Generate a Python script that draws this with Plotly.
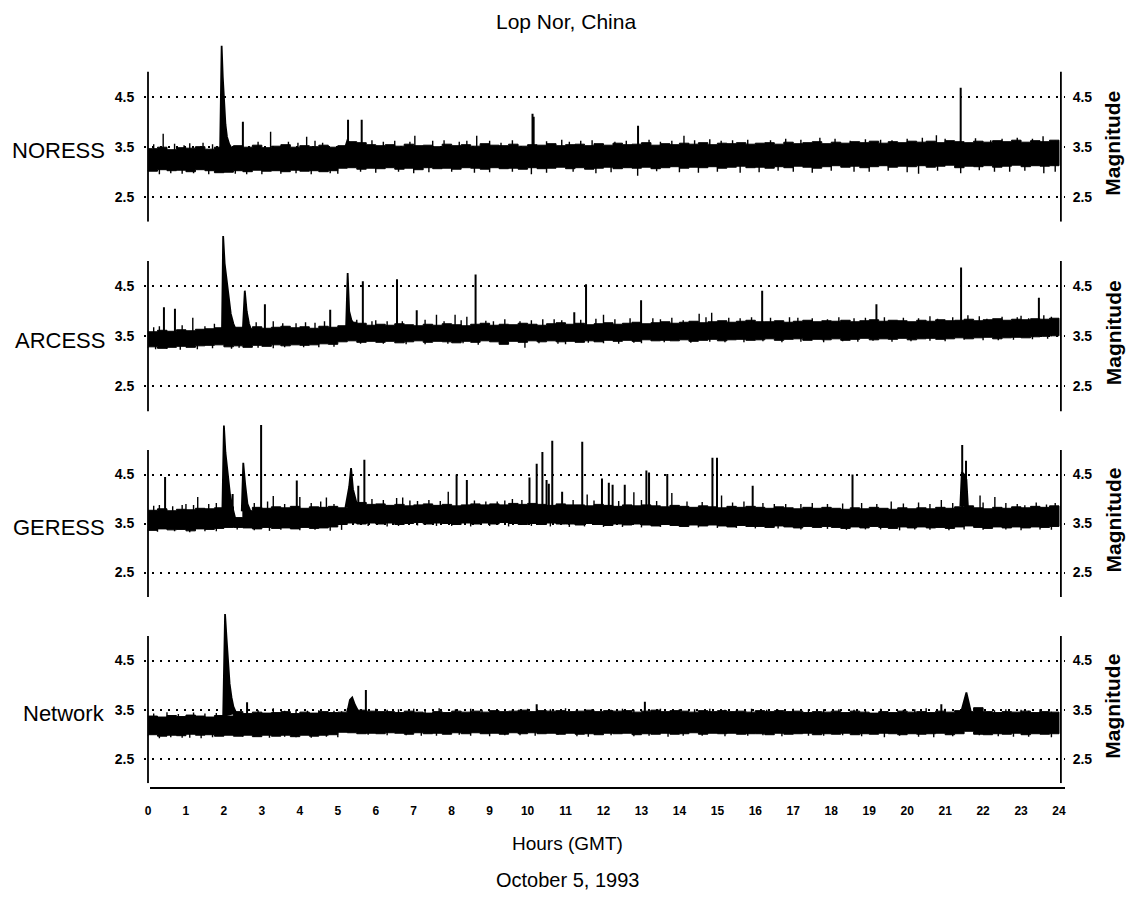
import plotly.graph_objects as go

# ---------------- data ----------------
HOURS = [0.0, 0.25, 0.5, 0.75, 1.0, 1.25, 1.5, 1.75, 2.0, 2.25, 2.5, 2.75,
         3.0, 3.25, 3.5, 3.75, 4.0, 4.25, 4.5, 4.75, 5.0, 5.25, 5.5, 5.75,
         6.0, 6.25, 6.5, 6.75, 7.0, 7.25, 7.5, 7.75, 8.0, 8.25, 8.5, 8.75,
         9.0, 9.25, 9.5, 9.75, 10.0, 10.25, 10.5, 10.75, 11.0, 11.25, 11.5, 11.75,
         12.0, 12.25, 12.5, 12.75, 13.0, 13.25, 13.5, 13.75, 14.0, 14.25, 14.5, 14.75,
         15.0, 15.25, 15.5, 15.75, 16.0, 16.25, 16.5, 16.75, 17.0, 17.25, 17.5, 17.75,
         18.0, 18.25, 18.5, 18.75, 19.0, 19.25, 19.5, 19.75, 20.0, 20.25, 20.5, 20.75,
         21.0, 21.25, 21.5, 21.75, 22.0, 22.25, 22.5, 22.75, 23.0, 23.25, 23.5, 23.75, 24.0]

X_TICKS = [0, 1, 2, 3, 4, 5, 6, 7, 8, 9, 10, 11, 12, 13, 14, 15, 16, 17, 18, 19, 20, 21, 22, 23, 24]
Y_TICKS = [2.5, 3.5, 4.5]
STATIONS = ["NORESS", "ARCESS", "GERESS", "Network"]

# noise band envelopes (upper / lower magnitude every quarter hour)
NORESS_UPPER = [3.46, 3.49, 3.44, 3.48, 3.47, 3.50, 3.45, 3.49,
                3.48,
                3.52, 3.49, 3.53, 3.48, 3.51, 3.54, 3.49, 3.52, 3.50, 3.53, 3.49, 3.52,
                3.60, 3.58, 3.54, 3.52,
                3.54, 3.51, 3.55, 3.52, 3.53, 3.50, 3.55, 3.52, 3.54, 3.51,
                3.56, 3.53, 3.52, 3.55, 3.51, 3.54, 3.53, 3.56, 3.52, 3.54,
                3.55, 3.52, 3.56, 3.53, 3.57, 3.54, 3.55, 3.58, 3.53, 3.56,
                3.54, 3.57, 3.55, 3.58, 3.54, 3.57, 3.56, 3.58, 3.55, 3.57,
                3.58, 3.55, 3.59, 3.56, 3.58, 3.60, 3.56, 3.59, 3.57, 3.60, 3.58, 3.61,
                3.57, 3.60, 3.58, 3.61, 3.59, 3.61, 3.58, 3.62, 3.60, 3.58, 3.61, 3.59,
                3.62, 3.60, 3.63, 3.59, 3.62, 3.60, 3.63, 3.61]
NORESS_LOWER = [3.03, 3.01, 3.04, 3.02, 3.03, 3.00, 3.04, 3.02,
                2.98,
                2.99, 3.02, 3.00, 3.03, 3.01, 3.02, 3.00, 3.03, 3.01, 3.02, 3.00, 3.02,
                3.07, 3.08, 3.05, 3.07,
                3.06, 3.08, 3.05, 3.07, 3.04, 3.08, 3.06, 3.07, 3.05, 3.08,
                3.07, 3.05, 3.08, 3.06, 3.07, 3.05, 3.08, 3.06, 3.07, 3.09,
                3.06, 3.08, 3.05, 3.07, 3.09, 3.06, 3.08, 3.07, 3.09, 3.06,
                3.08, 3.10, 3.07, 3.09, 3.08, 3.10, 3.07, 3.09, 3.11, 3.08,
                3.09, 3.07, 3.10, 3.08, 3.11, 3.09, 3.07, 3.10, 3.12, 3.09, 3.11, 3.08,
                3.10, 3.12, 3.09, 3.11, 3.10, 3.12, 3.09, 3.11, 3.13, 3.08, 3.11, 3.10,
                3.12, 3.09, 3.11, 3.13, 3.10, 3.12, 3.11, 3.12]

ARCESS_UPPER = [3.59, 3.62, 3.60, 3.63, 3.61, 3.64, 3.65, 3.67,
                3.68,
                3.68, 3.65, 3.69, 3.66, 3.68, 3.70, 3.67, 3.69, 3.66, 3.70, 3.68, 3.71,
                3.78, 3.76, 3.72, 3.74,
                3.72, 3.75, 3.73, 3.71, 3.74, 3.72, 3.75, 3.73, 3.71, 3.74,
                3.76, 3.72, 3.74, 3.73, 3.76, 3.74, 3.72, 3.75, 3.77, 3.74,
                3.76, 3.73, 3.75, 3.77, 3.74, 3.76, 3.78, 3.75, 3.77, 3.79,
                3.76, 3.78, 3.80, 3.77, 3.79, 3.81, 3.78, 3.80, 3.82, 3.79,
                3.79, 3.81, 3.78, 3.80, 3.82, 3.79, 3.81, 3.80, 3.82, 3.79, 3.81, 3.83,
                3.80, 3.82, 3.81, 3.79, 3.82, 3.80, 3.83, 3.81, 3.82, 3.84, 3.81, 3.83,
                3.85, 3.82, 3.84, 3.83, 3.85, 3.84, 3.86, 3.84]
ARCESS_LOWER = [3.27, 3.29, 3.26, 3.28, 3.30, 3.28, 3.31, 3.32,
                3.33,
                3.29, 3.31, 3.28, 3.32, 3.30, 3.33, 3.31, 3.33, 3.32, 3.33, 3.35, 3.34,
                3.39, 3.41, 3.38, 3.40,
                3.38, 3.40, 3.37, 3.39, 3.41, 3.38, 3.40, 3.39, 3.37, 3.40,
                3.38, 3.41, 3.39, 3.34, 3.40, 3.38, 3.41, 3.39, 3.41, 3.39,
                3.40, 3.38, 3.41, 3.39, 3.42, 3.40, 3.42, 3.40, 3.43, 3.41,
                3.42, 3.41, 3.43, 3.40, 3.42, 3.44, 3.41, 3.43, 3.44, 3.42,
                3.43, 3.45, 3.42, 3.44, 3.45, 3.42, 3.44, 3.43, 3.45, 3.42, 3.44, 3.46,
                3.43, 3.45, 3.44, 3.46, 3.43, 3.45, 3.46, 3.44, 3.45, 3.47, 3.45, 3.47,
                3.48, 3.45, 3.47, 3.48, 3.47, 3.49, 3.50, 3.51]

GERESS_UPPER = [3.77, 3.80, 3.76, 3.79, 3.78, 3.81, 3.80, 3.82,
                3.84,
                3.62, 3.76,
                3.83, 3.81, 3.84, 3.82, 3.85, 3.81, 3.84, 3.83, 3.85, 3.82,
                3.92, 3.93, 3.89, 3.90,
                3.87, 3.89, 3.86, 3.88, 3.90, 3.87, 3.89, 3.86, 3.88, 3.90,
                3.88, 3.90, 3.88, 3.91, 3.89, 3.91, 3.89, 3.87, 3.90, 3.88,
                3.88, 3.86, 3.89, 3.87, 3.85, 3.88, 3.86, 3.88, 3.86, 3.84,
                3.87, 3.85, 3.83, 3.86, 3.84, 3.82, 3.85, 3.83, 3.85, 3.83,
                3.81, 3.84, 3.82, 3.80, 3.83, 3.81, 3.83, 3.81, 3.79, 3.82, 3.80, 3.83,
                3.81, 3.79, 3.82, 3.80, 3.82, 3.80, 3.83, 3.81, 3.84, 3.86, 3.82, 3.80,
                3.83, 3.81, 3.84, 3.82, 3.85, 3.83, 3.86, 3.84]
GERESS_LOWER = [3.38, 3.36, 3.39, 3.37, 3.38, 3.35, 3.39, 3.38,
                3.40,
                3.42, 3.42,
                3.41, 3.39, 3.42, 3.40, 3.41, 3.39, 3.42, 3.40, 3.41, 3.43,
                3.48, 3.51, 3.49, 3.51,
                3.49, 3.51, 3.48, 3.50, 3.52, 3.49, 3.51, 3.50, 3.48, 3.51,
                3.49, 3.51, 3.49, 3.52, 3.50, 3.48, 3.50, 3.48, 3.51, 3.49,
                3.49, 3.47, 3.50, 3.48, 3.46, 3.49, 3.47, 3.49, 3.47, 3.45,
                3.48, 3.46, 3.44, 3.47, 3.45, 3.47, 3.45, 3.43, 3.46, 3.44,
                3.44, 3.42, 3.45, 3.43, 3.41, 3.44, 3.42, 3.44, 3.42, 3.40, 3.43, 3.41,
                3.44, 3.42, 3.40, 3.43, 3.41, 3.43, 3.41, 3.42, 3.40, 3.43, 3.45, 3.42,
                3.40, 3.43, 3.41, 3.43, 3.41, 3.43, 3.42, 3.44]

NETWORK_UPPER = [3.37, 3.35, 3.38, 3.36, 3.39, 3.37, 3.35, 3.38,
                 3.37,
                 3.46, 3.42, 3.45, 3.43, 3.44, 3.46, 3.42, 3.45, 3.43, 3.46, 3.44, 3.45,
                 3.52, 3.49, 3.47, 3.46,
                 3.46, 3.44, 3.47, 3.45, 3.43, 3.46, 3.44, 3.47, 3.45, 3.47,
                 3.45, 3.48, 3.46, 3.47, 3.49, 3.46, 3.48, 3.47, 3.48, 3.46,
                 3.47, 3.49, 3.46, 3.48, 3.47, 3.48, 3.45, 3.47, 3.49, 3.46,
                 3.48, 3.47, 3.45, 3.48, 3.46, 3.48, 3.46, 3.47, 3.45, 3.48,
                 3.46, 3.48, 3.46, 3.47, 3.44, 3.46, 3.45, 3.47, 3.44, 3.47, 3.45, 3.43,
                 3.46, 3.44, 3.47, 3.45, 3.46, 3.44, 3.47, 3.45, 3.48, 3.46, 3.54, 3.46,
                 3.44, 3.46, 3.45, 3.47, 3.44, 3.46, 3.45, 3.43]
NETWORK_LOWER = [2.97, 2.99, 2.96, 2.98, 2.97, 3.00, 2.98, 2.99,
                 2.96,
                 2.98, 2.96, 2.98, 2.95, 2.98, 2.96, 2.98, 2.95, 2.98, 2.96, 2.98, 2.99,
                 3.04, 3.03, 3.01, 3.02,
                 3.01, 3.03, 3.02, 3.00, 3.03, 3.01, 3.02, 3.00, 3.03, 3.01,
                 3.03, 3.01, 3.02, 3.00, 3.03, 3.01, 3.03, 3.01, 3.02, 3.00,
                 3.02, 3.00, 3.01, 2.99, 3.02, 3.01, 3.02, 2.99, 3.01, 3.00,
                 3.02, 3.00, 3.01, 3.03, 3.00, 3.02, 3.01, 3.02, 3.00, 3.01,
                 3.01, 2.99, 3.02, 3.00, 3.01, 3.02, 2.99, 3.01, 3.00, 3.02, 2.99, 3.01,
                 3.00, 3.02, 3.01, 2.99, 3.01, 3.00, 3.01, 3.02, 2.99, 3.01, 3.06, 3.00,
                 2.99, 3.01, 3.00, 3.02, 2.99, 3.01, 3.00, 3.01]

# detected events: (hour, peak magnitude)
NORESS_SPIKES = [(2.5, 4.0), (5.27, 4.04), (5.63, 4.04), (10.13, 4.16), (10.16, 4.1),
                 (12.91, 3.92), (21.41, 4.68)]
ARCESS_SPIKES = [(0.42, 4.08), (0.71, 4.05), (3.08, 4.14), (4.8, 4.03), (5.66, 4.6),
                 (6.56, 4.64), (7.08, 4.02), (8.63, 4.73), (11.23, 3.98), (11.54, 4.54),
                 (12.99, 4.22), (16.18, 4.41), (19.19, 4.14), (21.42, 4.87), (23.47, 4.27)]
GERESS_SPIKES = [(0.45, 4.45), (2.23, 4.1), (2.98, 5.51), (3.92, 4.38), (5.54, 4.27),
                 (5.7, 4.8), (8.13, 4.5), (8.4, 4.39), (10.05, 4.44), (10.24, 4.72),
                 (10.39, 4.96), (10.5, 4.39), (10.56, 4.31), (10.65, 5.19), (10.91, 4.15),
                 (11.44, 5.17), (11.96, 4.42), (12.14, 4.33), (12.24, 4.29), (12.56, 4.29),
                 (13.13, 4.58), (13.2, 4.54), (13.68, 4.51), (14.87, 4.84), (14.99, 4.84),
                 (15.93, 4.27), (18.56, 4.5), (21.45, 5.1), (21.55, 4.78)]
NETWORK_SPIKES = [(2.61, 3.65), (5.74, 3.9), (10.24, 3.61), (13.09, 3.66), (20.9, 3.61)]

# small noise excursions above / below the band: (hour, magnitude)
NORESS_JAGS = [(0.4, 3.76), (1.1, 3.57), (1.7, 3.55), (3.23, 3.8), (4.18, 3.7), (4.6, 3.58),
               (6.2, 3.6), (7.03, 3.72), (7.5, 3.62), (8.2, 3.6), (8.66, 3.72), (9.3, 3.58),
               (11.4, 3.62), (12.3, 3.6), (13.5, 3.6), (14.12, 3.72), (15.1, 3.62),
               (16.4, 3.63), (17.7, 3.68), (18.5, 3.62), (19.6, 3.63), (20.77, 3.73),
               (22.2, 3.63), (23.58, 3.71), (23.9, 3.62),
               (0.15, 3.55), (0.7, 3.56), (0.95, 3.53), (1.45, 3.58), (2.9, 3.6), (3.7, 3.6),
               (3.95, 3.58), (4.4, 3.62), (5.9, 3.63), (6.5, 3.62), (6.9, 3.6), (7.8, 3.63),
               (8.4, 3.62), (9.0, 3.62), (9.6, 3.63), (10.5, 3.61), (10.9, 3.64), (11.1, 3.6),
               (11.7, 3.63), (12.6, 3.62), (13.2, 3.64), (13.8, 3.62), (14.4, 3.63),
               (14.8, 3.65), (15.4, 3.63), (15.8, 3.64), (16.8, 3.66), (17.2, 3.64),
               (18.1, 3.66), (18.9, 3.65), (19.3, 3.64), (20.0, 3.66), (20.4, 3.68),
               (21.0, 3.66), (21.8, 3.67), (22.5, 3.66), (22.9, 3.68), (23.3, 3.66),
               (0.3, 2.95), (1.2, 2.97), (2.6, 2.95), (3.5, 2.96), (4.8, 2.97), (6.0, 2.98),
               (7.4, 2.99), (9.0, 2.99), (10.1, 2.95), (11.8, 2.97), (12.9, 2.92),
               (14.5, 2.98), (16.1, 2.99), (17.5, 2.98), (19.0, 3.0), (20.3, 2.96),
               (21.41, 2.97), (22.7, 3.0), (23.6, 2.97),
               (0.6, 2.97), (0.9, 2.96), (1.6, 2.95), (2.3, 2.96), (3.0, 2.95), (3.9, 2.97),
               (4.3, 2.95), (5.0, 2.96), (5.6, 3.0), (6.6, 3.0), (7.0, 2.97), (8.0, 3.0),
               (8.6, 2.98), (9.6, 3.0), (10.5, 2.98), (11.2, 3.0), (12.2, 2.99), (13.4, 3.01),
               (14.0, 2.99), (15.0, 3.0), (15.6, 2.98), (16.6, 3.02), (17.0, 3.0),
               (18.0, 3.02), (18.6, 3.0), (19.5, 3.02), (20.0, 2.99), (20.8, 3.02),
               (21.9, 3.03), (22.3, 3.0), (23.1, 3.02), (23.9, 3.0)]
ARCESS_JAGS = [(1.18, 3.87), (3.3, 3.8), (3.9, 3.76), (4.4, 3.77), (6.0, 3.82), (7.6, 3.93),
               (8.09, 3.93), (8.4, 3.89), (9.1, 3.8), (9.8, 3.8), (10.4, 3.84), (10.9, 3.82),
               (12.0, 3.93), (13.5, 3.84), (14.1, 3.82), (14.52, 3.95), (14.85, 3.97),
               (15.6, 3.86), (17.12, 3.87), (17.9, 3.84), (18.6, 3.86), (20.3, 3.86),
               (20.8, 3.85), (21.2, 3.88), (22.1, 3.85), (22.9, 3.88), (23.2, 3.86),
               (23.8, 3.89),
               (0.15, 3.68), (0.3, 3.7), (0.9, 3.72), (1.5, 3.7), (1.75, 3.75), (2.85, 3.78),
               (3.55, 3.76), (4.15, 3.78), (4.65, 3.8), (5.5, 3.83), (5.9, 3.8), (6.3, 3.8),
               (6.7, 3.8), (7.3, 3.83), (7.8, 3.8), (8.25, 3.82), (8.9, 3.81), (9.4, 3.84),
               (10.1, 3.82), (10.7, 3.84), (11.4, 3.83), (11.8, 3.85), (12.3, 3.84),
               (12.7, 3.86), (13.3, 3.86), (13.8, 3.87), (14.7, 3.88), (15.3, 3.87),
               (15.9, 3.88), (16.4, 3.87), (16.9, 3.88), (17.5, 3.86), (18.2, 3.88),
               (18.9, 3.87), (19.4, 3.88), (19.9, 3.87), (20.6, 3.9), (21.6, 3.92),
               (21.9, 3.9), (22.5, 3.89), (23.0, 3.91), (23.6, 3.92),
               (0.5, 3.25), (1.3, 3.24), (2.4, 3.27), (3.6, 3.28), (4.5, 3.28), (6.8, 3.34),
               (7.9, 3.35), (8.7, 3.33), (9.93, 3.27), (11.0, 3.34), (12.4, 3.35),
               (13.0, 3.36), (14.3, 3.37), (15.2, 3.38), (16.7, 3.38), (17.8, 3.38),
               (18.7, 3.39), (19.6, 3.39), (21.0, 3.4), (22.4, 3.42), (23.3, 3.44),
               (0.2, 3.24), (0.85, 3.23), (1.7, 3.26), (2.2, 3.25), (2.9, 3.27), (3.3, 3.26),
               (4.1, 3.28), (4.9, 3.29), (5.6, 3.35), (6.2, 3.35), (7.3, 3.34), (8.3, 3.36),
               (9.3, 3.35), (10.3, 3.36), (10.8, 3.35), (11.6, 3.37), (12.0, 3.36),
               (12.8, 3.37), (13.6, 3.38), (14.8, 3.39), (15.7, 3.38), (16.2, 3.4),
               (17.2, 3.39), (18.3, 3.4), (19.1, 3.41), (20.1, 3.4), (20.6, 3.41),
               (21.5, 3.43), (22.0, 3.42), (22.8, 3.43), (23.7, 3.45)]
GERESS_JAGS = [(0.9, 3.88), (1.0, 3.9), (1.31, 4.04), (3.3, 4.06), (4.0, 4.04), (4.7, 4.03),
               (6.55, 4.02), (6.71, 4.03), (7.1, 3.96), (7.91, 4.15), (9.2, 3.95), (9.6, 4.0),
               (11.57, 4.09), (12.8, 4.14), (13.8, 4.12), (15.11, 4.07), (16.5, 3.9),
               (17.2, 3.9), (19.58, 3.95), (20.9, 3.98), (21.92, 4.07), (22.31, 4.04),
               (23.1, 3.87), (23.67, 3.89),
               (0.15, 3.86), (0.3, 3.88), (0.65, 3.85), (1.2, 3.88), (1.6, 3.9), (1.8, 3.92),
               (2.8, 3.92), (3.15, 3.95), (3.6, 3.9), (4.3, 3.92), (4.55, 3.95), (4.9, 3.9),
               (5.9, 4.0), (6.2, 3.98), (6.9, 3.97), (7.4, 3.98), (7.7, 3.96), (8.6, 3.97),
               (8.9, 3.95), (9.4, 3.97), (9.85, 3.98), (11.2, 3.98), (11.75, 3.97),
               (12.4, 3.96), (13.0, 3.98), (13.4, 3.96), (14.2, 3.95), (14.6, 3.94),
               (15.4, 3.93), (15.7, 3.95), (16.2, 3.92), (16.8, 3.9), (17.5, 3.92),
               (17.9, 3.9), (18.3, 3.91), (18.8, 3.92), (19.2, 3.9), (19.9, 3.91),
               (20.3, 3.93), (20.6, 3.9), (21.2, 3.92), (22.0, 3.93), (22.6, 3.92),
               (22.9, 3.9), (23.4, 3.93), (23.9, 3.92),
               (0.7, 3.34), (1.5, 3.34), (3.5, 3.37), (4.4, 3.37), (6.3, 3.44), (7.6, 3.45),
               (9.5, 3.44), (11.1, 3.43), (12.5, 3.43), (14.0, 3.44), (15.5, 3.41),
               (16.6, 3.4), (17.9, 3.39), (19.3, 3.38), (20.6, 3.37), (21.5, 3.38),
               (22.6, 3.38), (23.5, 3.38),
               (0.25, 3.33), (1.1, 3.32), (1.8, 3.34), (2.35, 3.38), (2.8, 3.36), (3.2, 3.35),
               (4.0, 3.36), (4.8, 3.35), (5.1, 3.37), (5.8, 3.45), (6.6, 3.45), (7.1, 3.46),
               (8.0, 3.45), (8.5, 3.44), (9.0, 3.45), (10.1, 3.45), (10.6, 3.44),
               (11.5, 3.44), (12.0, 3.43), (13.0, 3.42), (13.5, 3.43), (14.5, 3.42),
               (15.0, 3.41), (16.0, 3.4), (17.2, 3.38), (18.4, 3.37), (18.9, 3.38),
               (19.8, 3.36), (20.2, 3.38), (21.1, 3.36), (22.0, 3.37), (23.0, 3.36),
               (23.8, 3.37)]
NETWORK_JAGS = [(0.5, 3.45), (1.5, 3.42), (3.3, 3.53), (4.2, 3.48), (4.9, 3.48), (6.6, 3.51),
                (7.67, 3.53), (8.8, 3.5), (9.6, 3.5), (11.3, 3.51), (12.2, 3.5), (14.4, 3.51),
                (15.5, 3.49), (16.6, 3.5), (17.8, 3.51), (18.9, 3.49), (19.9, 3.5),
                (20.5, 3.53), (22.3, 3.49), (23.2, 3.48), (23.8, 3.46),
                (0.15, 3.42), (0.8, 3.41), (1.2, 3.44), (1.8, 3.43), (2.9, 3.49), (3.6, 3.48),
                (3.9, 3.5), (4.5, 3.49), (5.1, 3.47), (6.0, 3.52), (6.3, 3.5), (7.0, 3.52),
                (7.3, 3.5), (8.1, 3.51), (8.5, 3.52), (9.2, 3.51), (10.0, 3.52), (10.6, 3.51),
                (11.0, 3.53), (11.7, 3.51), (12.5, 3.52), (12.8, 3.5), (13.5, 3.52),
                (14.0, 3.51), (14.8, 3.52), (15.2, 3.5), (15.9, 3.52), (16.3, 3.5),
                (17.0, 3.52), (17.4, 3.5), (18.2, 3.51), (18.6, 3.5), (19.3, 3.52),
                (20.2, 3.51), (21.0, 3.52), (21.9, 3.5), (22.6, 3.51), (23.0, 3.5),
                (23.5, 3.51),
                (0.3, 2.92), (1.1, 2.93), (2.8, 2.95), (3.9, 2.94), (4.7, 2.95), (6.3, 2.98),
                (7.2, 2.97), (8.5, 2.97), (9.8, 2.98), (11.6, 2.95), (12.8, 2.96),
                (14.1, 2.97), (15.8, 2.97), (17.4, 2.97), (18.3, 2.98), (19.4, 2.94),
                (20.7, 2.94), (22.8, 2.95), (23.8, 2.94),
                (0.6, 2.94), (0.9, 2.93), (1.4, 2.92), (1.7, 2.94), (2.5, 2.95), (3.2, 2.93),
                (3.6, 2.95), (4.3, 2.93), (5.0, 2.94), (5.8, 2.99), (6.8, 2.98), (7.6, 2.97),
                (8.2, 2.99), (9.0, 2.96), (9.4, 2.98), (10.2, 2.97), (10.8, 2.99),
                (11.3, 2.96), (12.2, 2.98), (13.2, 2.97), (13.7, 2.95), (14.6, 2.97),
                (15.2, 2.96), (16.2, 2.98), (16.7, 2.96), (17.8, 2.97), (18.8, 2.96),
                (19.8, 2.97), (20.3, 2.95), (21.2, 2.96), (21.9, 2.98), (22.4, 2.96),
                (23.2, 2.95)]

# large events with their decay (hour, magnitude)
NORESS_EVENTS = [
    [(1.9, 3.45), (1.94, 5.52), (1.97, 4.9), (2.0, 4.45), (2.04, 3.95), (2.08, 3.7),
     (2.14, 3.55), (2.22, 3.45)],
    [(5.2, 3.5), (5.25, 3.62), (5.3, 3.58), (5.4, 3.5)],
]
ARCESS_EVENTS = [
    [(1.95, 3.65), (1.98, 5.5), (2.02, 4.95), (2.07, 4.65), (2.12, 4.25), (2.18, 3.95),
     (2.25, 3.75), (2.32, 3.62)],
    [(2.5, 3.65), (2.55, 4.41), (2.6, 4.0), (2.66, 3.75), (2.72, 3.62)],
    [(5.22, 3.7), (5.26, 4.76), (5.3, 4.0), (5.36, 3.82), (5.45, 3.72)],
]
GERESS_EVENTS = [
    [(1.96, 3.8), (2.0, 5.5), (2.04, 4.95), (2.08, 4.64), (2.12, 4.35), (2.16, 4.1),
     (2.22, 3.85), (2.3, 3.6)],
    [(2.47, 3.75), (2.51, 4.74), (2.56, 4.3), (2.62, 3.9), (2.7, 3.75)],
    [(5.2, 3.82), (5.3, 4.25), (5.35, 4.63), (5.4, 4.2), (5.5, 3.9)],
    [(21.4, 3.85), (21.44, 4.55), (21.5, 4.5), (21.56, 4.4), (21.6, 3.85)],
]
NETWORK_EVENTS = [
    [(1.98, 3.35), (2.03, 5.45), (2.07, 4.95), (2.11, 4.57), (2.15, 4.03), (2.2, 3.75),
     (2.25, 3.56), (2.33, 3.42)],
    [(5.25, 3.45), (5.32, 3.7), (5.38, 3.75), (5.45, 3.6), (5.55, 3.45)],
    [(21.42, 3.45), (21.5, 3.7), (21.56, 3.85), (21.62, 3.65), (21.68, 3.45)],
]

# magnitude inside each band from which the spikes are drawn
BAND_FLOOR = [3.3, 3.5, 3.6, 3.2]

# ---------------- figure ----------------
W, H = 1133, 899
FONT = "Liberation Sans, Arial, Helvetica, sans-serif"
PANEL_PX = [(41.7, 221.7), (231.0, 411.5), (420.6, 597.0), (606.6, 783.3)]  # px of y=5.6 / y=2.0
X_RANGE = [-0.1, 24.15]
X_DOM = [144.2 / W, 1064.7 / W]

series = [
    (NORESS_UPPER, NORESS_LOWER, NORESS_SPIKES, NORESS_JAGS, NORESS_EVENTS),
    (ARCESS_UPPER, ARCESS_LOWER, ARCESS_SPIKES, ARCESS_JAGS, ARCESS_EVENTS),
    (GERESS_UPPER, GERESS_LOWER, GERESS_SPIKES, GERESS_JAGS, GERESS_EVENTS),
    (NETWORK_UPPER, NETWORK_LOWER, NETWORK_SPIKES, NETWORK_JAGS, NETWORK_EVENTS),
]
for up, lo, *_ in series:
    assert len(up) == len(HOURS) and len(lo) == len(HOURS), (len(up), len(lo))

fig = go.Figure()
layout = dict(
    width=W, height=H, autosize=False,
    margin=dict(l=0, r=0, t=0, b=0),
    paper_bgcolor="white", plot_bgcolor="white",
    showlegend=False,
    font=dict(family=FONT, color="black"),
)
shapes = []
annotations = []
xtick_font = dict(family=FONT, size=12, color="black", weight="bold")
ytick_font = dict(family=FONT, size=14, color="black", weight="bold")

for i, (up, lo, spikes, jags, events) in enumerate(series, start=1):
    xa = "x" if i == 1 else f"x{i}"
    ya = "y" if i == 1 else f"y{i}"
    yr = f"y{i + 4}"
    floor = BAND_FLOOR[i - 1]

    # noise band
    fig.add_trace(go.Scatter(
        x=HOURS + HOURS[::-1], y=up + lo[::-1], mode="lines", fill="toself",
        fillcolor="black", line=dict(color="black", width=1, shape="hv"),
        xaxis=xa, yaxis=ya, hoverinfo="skip"))
    # small excursions
    jx, jy = [], []
    for h, v in jags:
        jx += [h, h, None]
        jy += [floor, v, None]
    fig.add_trace(go.Scatter(x=jx, y=jy, mode="lines", line=dict(color="black", width=1.4),
                             xaxis=xa, yaxis=ya, hoverinfo="skip"))
    # spikes
    sx, sy = [], []
    for h, v in spikes:
        sx += [h, h, None]
        sy += [floor, v, None]
    fig.add_trace(go.Scatter(x=sx, y=sy, mode="lines", line=dict(color="black", width=2),
                             xaxis=xa, yaxis=ya, hoverinfo="skip"))
    # large events (filled under their decay curve)
    for ev in events:
        fig.add_trace(go.Scatter(x=[p[0] for p in ev], y=[p[1] for p in ev], mode="lines",
                                 fill="toself", fillcolor="black",
                                 line=dict(color="black", width=1.8),
                                 xaxis=xa, yaxis=ya, hoverinfo="skip"))
    # placeholder so the right-hand axis is drawn
    fig.add_trace(go.Scatter(x=[None], y=[None], mode="lines", xaxis=xa, yaxis=yr,
                             hoverinfo="skip"))

    top, bot = PANEL_PX[i - 1]
    dom = [1 - bot / H, 1 - top / H]
    xkey = "xaxis" if i == 1 else f"xaxis{i}"
    ykey = "yaxis" if i == 1 else f"yaxis{i}"
    layout[xkey] = dict(
        domain=X_DOM, range=X_RANGE, anchor=ya, showgrid=False, zeroline=False,
        showline=False, ticks="", showticklabels=(i == 4),
        tickmode="array", tickvals=X_TICKS, ticktext=[str(t) for t in X_TICKS],
        tickfont=xtick_font, ticklabelstandoff=19, fixedrange=True)
    if i != 1:
        layout[xkey]["matches"] = "x"
    layout[ykey] = dict(
        domain=dom, range=[2.0, 5.6], anchor=xa, tickmode="array",
        tickvals=Y_TICKS, ticktext=[f"{t:.1f}" for t in Y_TICKS],
        showgrid=True, gridcolor="black", gridwidth=2, griddash="2px,6px",
        zeroline=False, showline=False, ticks="", tickfont=ytick_font,
        ticklabelstandoff=9, fixedrange=True)
    layout[f"yaxis{i + 4}"] = dict(
        range=[2.0, 5.6], overlaying=ya, side="right", anchor=xa, tickmode="array",
        tickvals=Y_TICKS, ticktext=[f"{t:.1f}" for t in Y_TICKS],
        showgrid=False, zeroline=False, showline=False, ticks="", tickfont=ytick_font,
        ticklabelstandoff=7, fixedrange=True)

    # vertical axis lines (left and right)
    for xv in (0, 24.05):
        shapes.append(dict(type="line", xref=xa, yref=ya, x0=xv, x1=xv, y0=2.0, y1=5.0,
                           line=dict(color="black", width=1.8)))

    annotations.append(dict(text=STATIONS[i - 1], xref="paper", yref=ya, x=107 / W, y=3.5,
                            yshift=-4, xanchor="right", yanchor="middle", showarrow=False,
                            font=dict(family=FONT, size=22, color="black")))
    annotations.append(dict(text="Magnitude", xref="paper", yref=ya, x=1113 / W, y=3.5,
                            yshift=3, xanchor="center", yanchor="middle", textangle=-90,
                            showarrow=False,
                            font=dict(family=FONT, size=21, color="black", weight="bold")))

# bottom time axis line
shapes.append(dict(type="line", xref="paper", yref="paper", x0=150 / W, x1=1065 / W,
                   y0=1 - 788 / H, y1=1 - 788 / H, line=dict(color="black", width=2)))

annotations += [
    dict(text="Lop Nor, China", xref="paper", yref="paper", x=566 / W, y=1 - 22 / H,
         xanchor="center", yanchor="middle", showarrow=False,
         font=dict(family=FONT, size=21, color="black")),
    dict(text="Hours (GMT)", xref="paper", yref="paper", x=567 / W, y=1 - 843 / H,
         xanchor="center", yanchor="middle", showarrow=False,
         font=dict(family=FONT, size=19, color="black")),
    dict(text="October 5, 1993", xref="paper", yref="paper", x=567 / W, y=1 - 880 / H,
         xanchor="center", yanchor="middle", showarrow=False,
         font=dict(family=FONT, size=20, color="black")),
]
layout["shapes"] = shapes
layout["annotations"] = annotations
fig.update_layout(**layout)
fig.write_html("out.html")
